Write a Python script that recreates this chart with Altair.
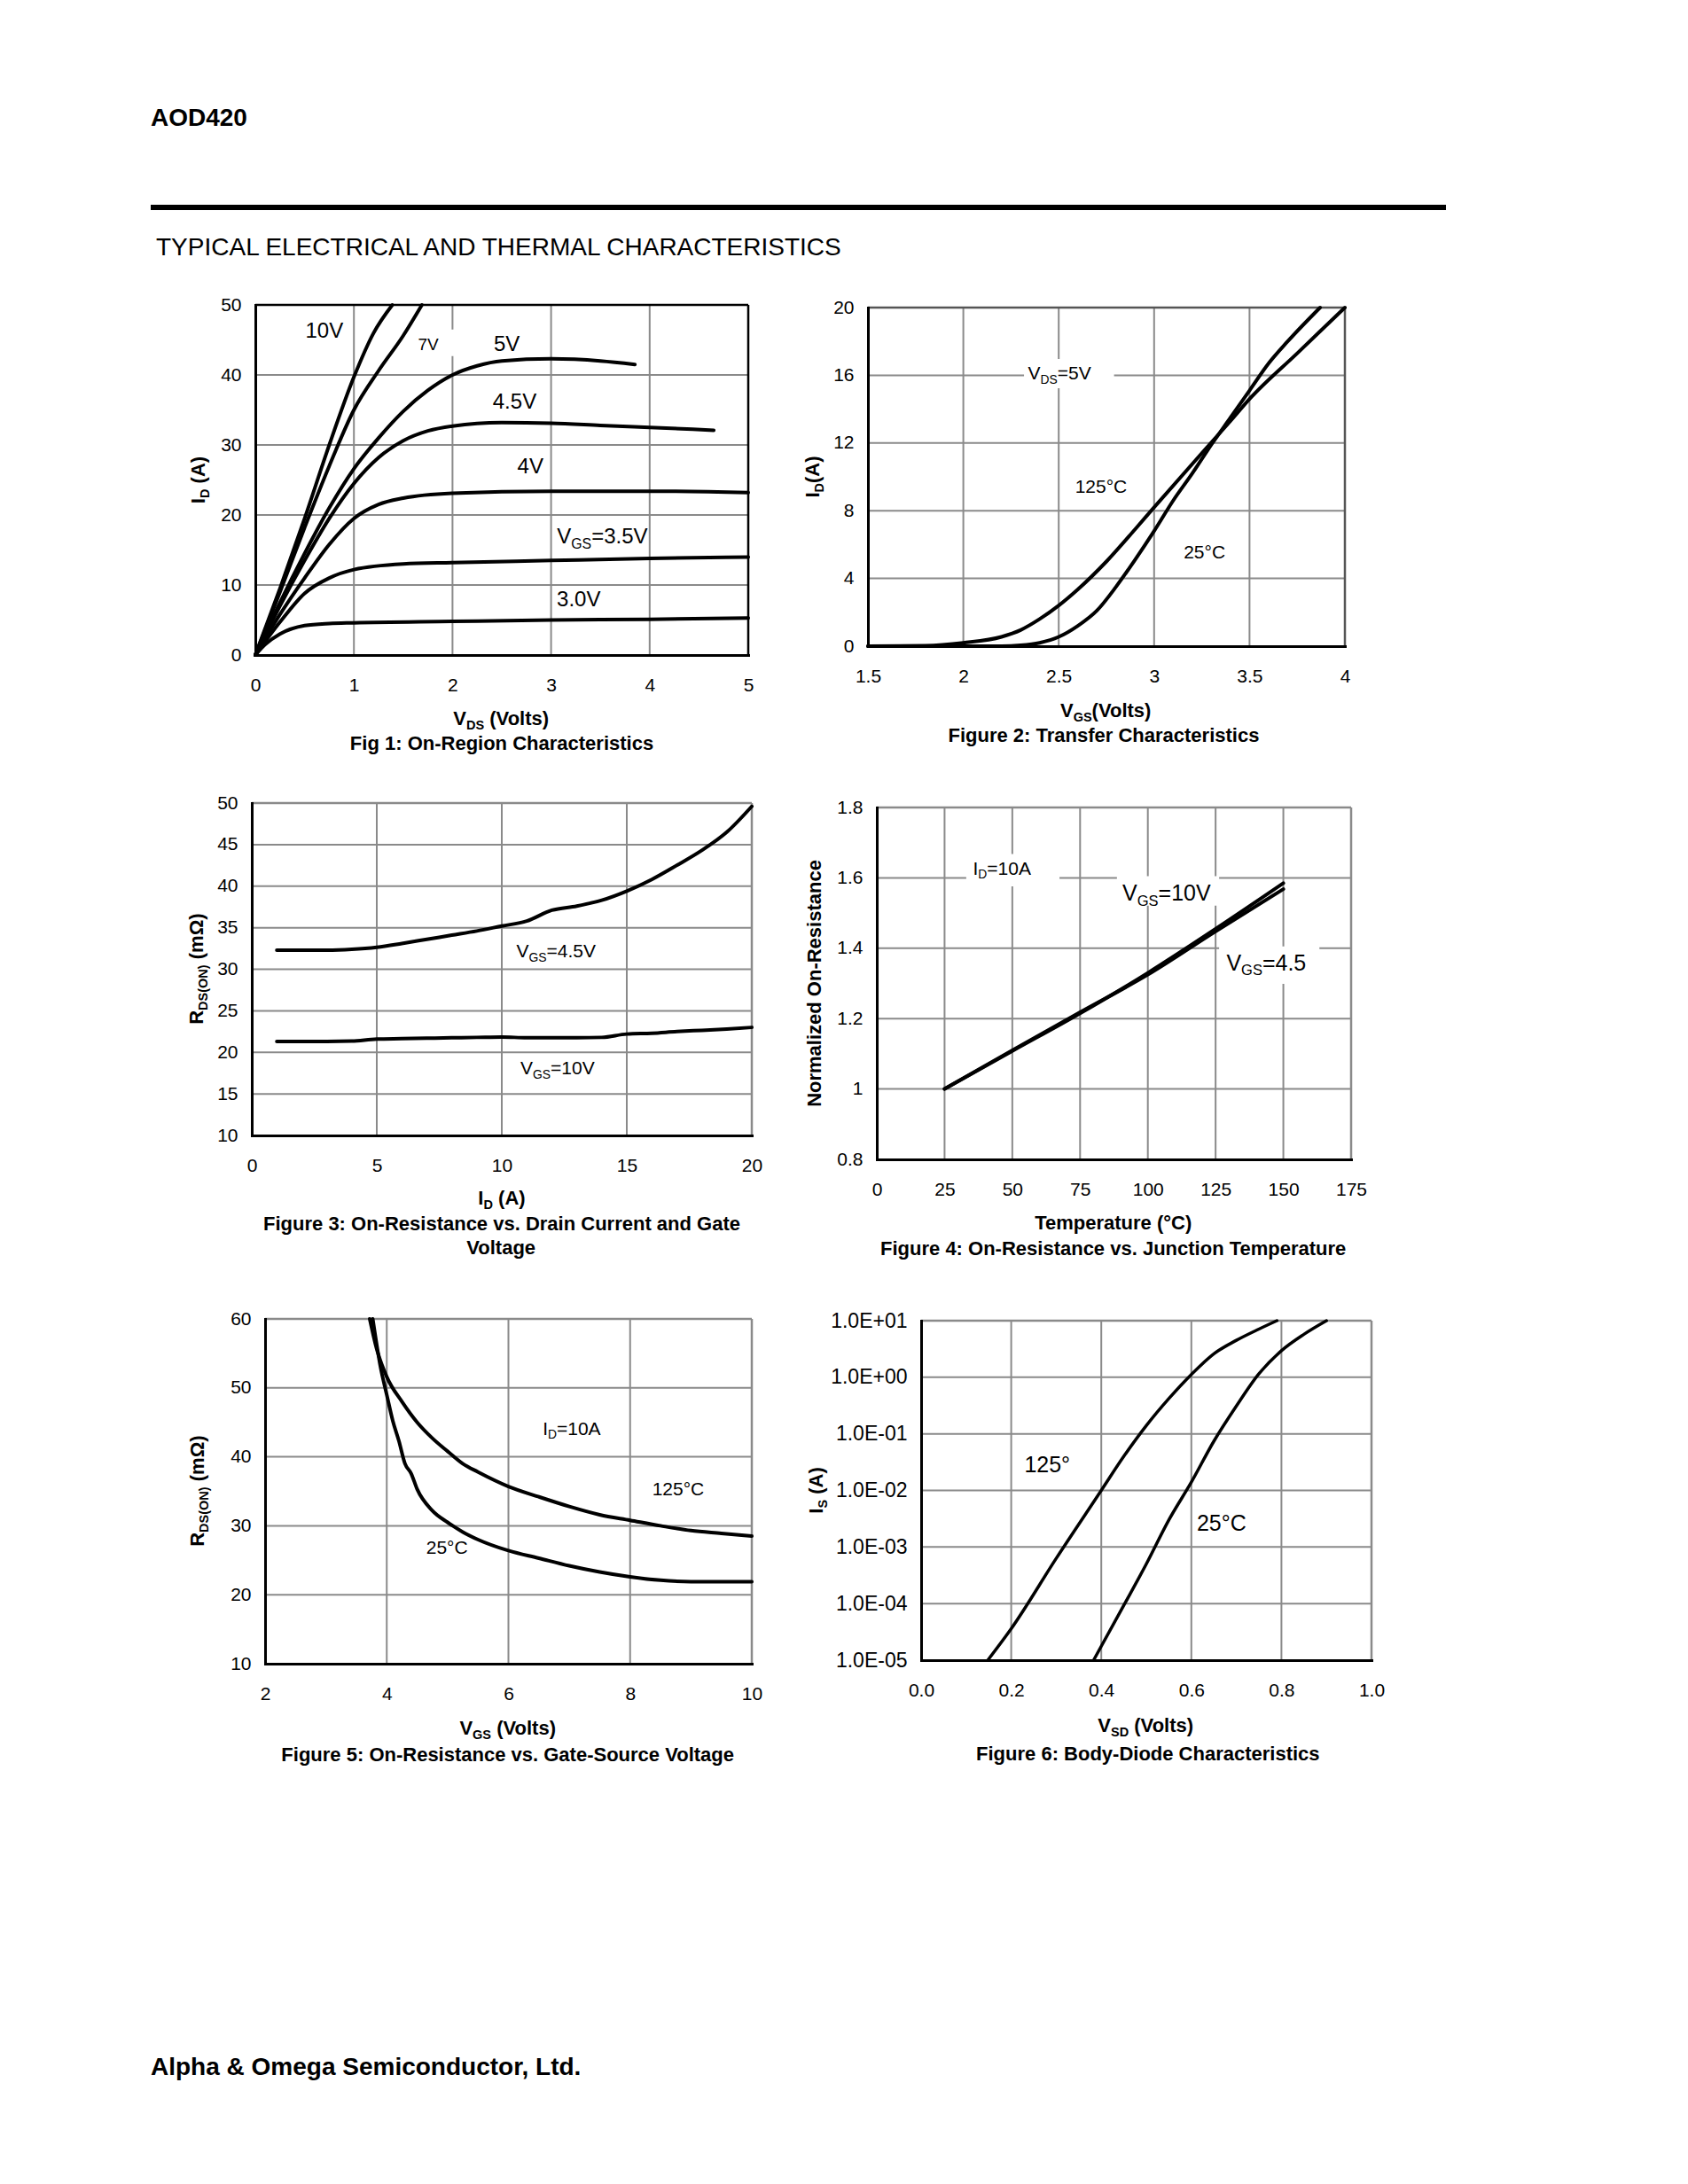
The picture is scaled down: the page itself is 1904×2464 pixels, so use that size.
import re
import altair as alt
import pandas as pd

FONT = "Liberation Sans, Arial, Helvetica, sans-serif"
GRID = "#8a8a8a"

# ---------------------------------------------------------------- data
# Fig 1: On-Region Characteristics (VDS in V, ID in A)
f1_vds_10v = [0, 0.25, 0.5, 0.75, 1.0, 1.2, 1.39]
f1_id_10v = [0, 9.5, 19.5, 30.0, 39.7, 46.0, 50.0]
f1_vds_7v = [0, 0.25, 0.5, 0.75, 1.0, 1.25, 1.5, 1.69]
f1_id_7v = [0, 9.0, 18.2, 27.0, 35.0, 40.6, 45.6, 50.0]
f1_vds_5v = [0, 0.25, 0.5, 0.75, 1.0, 1.25, 1.5, 1.75, 2.0, 2.25, 2.5, 3.0, 3.5, 3.85]
f1_id_5v = [0, 7.5, 14.5, 21.0, 26.6, 31.0, 34.8, 37.8, 40.0, 41.3, 42.0, 42.3, 42.0, 41.5]
f1_vds_45v = [0, 0.25, 0.5, 0.75, 1.0, 1.25, 1.5, 1.75, 2.0, 2.5, 3.0, 3.5, 4.0, 4.65]
f1_id_45v = [0, 7.0, 13.5, 19.5, 24.5, 28.2, 30.6, 32.0, 32.7, 33.2, 33.1, 32.8, 32.5, 32.1]
f1_vds_4v = [0, 0.25, 0.5, 0.75, 1.0, 1.25, 1.5, 2.0, 3.0, 4.0, 5.0]
f1_id_4v = [0, 5.8, 11.0, 15.8, 19.5, 21.5, 22.4, 23.1, 23.4, 23.4, 23.2]
f1_vds_35v = [0, 0.25, 0.5, 0.75, 1.0, 1.5, 2.0, 3.0, 4.0, 5.0]
f1_id_35v = [0, 4.7, 8.8, 11.0, 12.2, 13.0, 13.2, 13.5, 13.8, 14.0]
f1_vds_3v = [0, 0.1, 0.25, 0.5, 0.75, 1.0, 2.0, 3.0, 4.0, 5.0]
f1_id_3v = [0, 1.5, 3.0, 4.2, 4.5, 4.6, 4.8, 5.0, 5.1, 5.3]
f1_xticks = [0, 1, 2, 3, 4, 5]
f1_xlabels = ["0", "1", "2", "3", "4", "5"]
f1_yticks = [0, 10, 20, 30, 40, 50]
f1_ylabels = ["0", "10", "20", "30", "40", "50"]
f1_texts = ["10V", "7V", "5V", "4.5V", "4V", "V_{GS}=3.5V", "3.0V"]
f1_text_x = [0.70, 1.755, 2.55, 2.63, 2.79, 3.52, 3.28]
f1_text_y = [46.4, 44.4, 44.5, 36.3, 27.1, 17.0, 8.0]

# Fig 2: Transfer Characteristics (VGS in V, ID in A)
f2_vgs_125 = [1.5, 1.8, 2.0, 2.2, 2.3, 2.4, 2.5, 2.6, 2.75, 2.9, 3.0, 3.25, 3.4, 3.5, 3.75, 4.0]
f2_id_125 = [0, 0.03, 0.2, 0.55, 0.95, 1.6, 2.4, 3.35, 5.0, 6.9, 8.2, 11.4, 13.3, 14.6, 17.3, 20.0]
f2_vgs_25 = [1.5, 2.2, 2.3, 2.4, 2.5, 2.6, 2.7, 2.8, 2.9, 3.0, 3.1, 3.2, 3.3, 3.4, 3.5, 3.6, 3.7, 3.87]
f2_id_25 = [0, 0.0, 0.05, 0.2, 0.55, 1.2, 2.1, 3.5, 5.1, 6.8, 8.6, 10.2, 11.9, 13.5, 15.1, 16.7, 18.0, 20.0]
f2_xticks = [1.5, 2, 2.5, 3, 3.5, 4]
f2_xlabels = ["1.5", "2", "2.5", "3", "3.5", "4"]
f2_yticks = [0, 4, 8, 12, 16, 20]
f2_ylabels = ["0", "4", "8", "12", "16", "20"]
f2_texts = ["V_{DS}=5V", "125°C", "25°C"]
f2_text_x = [2.504, 2.722, 3.264]
f2_text_y = [16.14, 9.45, 5.56]

# Fig 3: On-Resistance vs. Drain Current (ID in A, RDS(ON) in mOhm)
f3_id = [1, 2, 3, 4, 5, 6, 7, 8, 9, 10, 11, 12, 13, 14, 15, 16, 17, 18, 19, 20]
f3_r_45v = [32.3, 32.3, 32.3, 32.4, 32.65, 33.1, 33.6, 34.1, 34.6, 35.2, 35.8, 37.1, 37.6, 38.3,
            39.4, 40.8, 42.5, 44.3, 46.5, 49.6]
f3_r_10v = [21.3, 21.3, 21.3, 21.35, 21.6, 21.65, 21.7, 21.75, 21.8, 21.85, 21.75, 21.75, 21.75,
            21.8, 22.2, 22.3, 22.5, 22.65, 22.8, 23.0]
f3_xticks = [0, 5, 10, 15, 20]
f3_xlabels = ["0", "5", "10", "15", "20"]
f3_yticks = [10, 15, 20, 25, 30, 35, 40, 45, 50]
f3_ylabels = ["10", "15", "20", "25", "30", "35", "40", "45", "50"]
f3_texts = ["V_{GS}=4.5V", "V_{GS}=10V"]
f3_text_x = [12.17, 12.23]
f3_text_y = [32.2, 18.17]

# Fig 4: Normalized On-Resistance vs. Junction Temperature
f4_temp = [25, 50, 75, 100, 125, 150]
f4_n_10v = [1.0, 1.108, 1.215, 1.33, 1.455, 1.585]
f4_n_45v = [1.0, 1.11, 1.218, 1.325, 1.448, 1.568]
f4_xticks = [0, 25, 50, 75, 100, 125, 150, 175]
f4_xlabels = ["0", "25", "50", "75", "100", "125", "150", "175"]
f4_yticks = [0.8, 1.0, 1.2, 1.4, 1.6, 1.8]
f4_ylabels = ["0.8", "1", "1.2", "1.4", "1.6", "1.8"]
f4_texts = ["I_{D}=10A", "V_{GS}=10V", "V_{GS}=4.5"]
f4_text_x = [46.2, 106.9, 143.7]
f4_text_y = [1.628, 1.557, 1.36]

# Fig 5: On-Resistance vs. Gate-Source Voltage (VGS in V, RDS(ON) in mOhm)
f5_vgs_125 = [3.72, 3.83, 4.0, 4.25, 4.5, 4.75, 5.0, 5.25, 5.5, 6.0, 6.5, 7.0, 7.5, 8.0, 8.5, 9.0, 9.5, 10.0]
f5_r_125 = [60, 55.8, 51.6, 48.0, 45.0, 42.7, 40.8, 39.0, 37.8, 35.7, 34.2, 32.8, 31.6, 30.8, 30.0, 29.3, 28.9, 28.5]
f5_vgs_25 = [3.77, 3.9, 4.0, 4.1, 4.2, 4.3, 4.4, 4.5, 4.75, 5.0, 5.25, 5.5, 6.0, 6.5, 7.0, 7.5, 8.0, 8.5, 9.0, 10.0]
f5_r_25 = [60, 52.9, 49.0, 45.2, 42.3, 39.0, 37.6, 35.3, 32.2, 30.5, 29.1, 28.0, 26.4, 25.3, 24.2, 23.3, 22.6,
           22.1, 21.9, 21.9]
f5_xticks = [2, 4, 6, 8, 10]
f5_xlabels = ["2", "4", "6", "8", "10"]
f5_yticks = [10, 20, 30, 40, 50, 60]
f5_ylabels = ["10", "20", "30", "40", "50", "60"]
f5_texts = ["I_{D}=10A", "125°C", "25°C"]
f5_text_x = [7.04, 8.79, 4.99]
f5_text_y = [44.17, 35.38, 26.9]

# Fig 6: Body-Diode Characteristics (VSD in V, IS in A, log)
f6_vsd_125 = [0.148, 0.2, 0.3, 0.4, 0.45, 0.5, 0.55, 0.6, 0.65, 0.7, 0.75, 0.79]
f6_is_125 = [1.0e-5, 3.6e-5, 6.3e-4, 1.0e-2, 4.0e-2, 1.4e-1, 4.2e-1, 1.12, 2.6, 4.5, 7.1, 10.0]
f6_vsd_25 = [0.383, 0.45, 0.5, 0.55, 0.6, 0.65, 0.7, 0.75, 0.8, 0.85, 0.9]
f6_is_25 = [1.0e-5, 9.3e-5, 5.0e-4, 3.0e-3, 1.4e-2, 7.4e-2, 3.1e-1, 1.15, 2.95, 5.75, 10.0]
f6_xticks = [0.0, 0.2, 0.4, 0.6, 0.8, 1.0]
f6_xlabels = ["0.0", "0.2", "0.4", "0.6", "0.8", "1.0"]
f6_yticks = [1e-5, 1e-4, 1e-3, 1e-2, 1e-1, 1e0, 1e1]
f6_ylabels = ["1.0E-05", "1.0E-04", "1.0E-03", "1.0E-02", "1.0E-01", "1.0E+00", "1.0E+01"]
f6_texts = ["125°", "25°C"]
f6_text_x = [0.280, 0.667]
f6_text_y = [0.0285, 0.00263]

# ---------------------------------------------------------------- text helpers
W_R = {c: 556 for c in "0123456789"}
W_R.update({' ': 278, '(': 333, ')': 333, '.': 278, ',': 278, '=': 584, '-': 333, ':': 278, '&': 667,
            '°': 400, 'Ω': 768, '+': 584,
            'A': 667, 'B': 667, 'C': 722, 'D': 722, 'E': 667, 'F': 611, 'G': 778, 'H': 722, 'I': 278,
            'L': 556, 'M': 833, 'N': 722, 'O': 778, 'P': 667, 'R': 722, 'S': 667, 'T': 611, 'U': 722,
            'V': 667, 'Y': 667,
            'a': 556, 'b': 556, 'c': 500, 'd': 556, 'e': 556, 'g': 556, 'h': 556, 'i': 222, 'l': 222,
            'm': 833, 'n': 556, 'o': 556, 'p': 556, 'r': 333, 's': 500, 't': 278, 'u': 556, 'v': 500,
            'z': 500})
W_B = {c: 556 for c in "0123456789"}
W_B.update({' ': 278, '(': 333, ')': 333, '.': 278, ',': 278, '=': 584, '-': 333, ':': 333, '&': 722,
            '°': 400, 'Ω': 768,
            'A': 722, 'C': 722, 'D': 722, 'E': 667, 'F': 611, 'G': 778, 'I': 278, 'L': 611, 'N': 722,
            'O': 778, 'R': 722, 'S': 667, 'T': 611, 'V': 667,
            'a': 556, 'b': 611, 'c': 556, 'd': 611, 'e': 556, 'g': 611, 'h': 611, 'i': 278, 'l': 278,
            'm': 889, 'n': 611, 'o': 611, 'p': 611, 'r': 389, 's': 556, 't': 333, 'u': 611, 'v': 556,
            'z': 500})


def parse_rich(s):
    parts, pos = [], 0
    for m in re.finditer(r"_\{([^}]*)\}", s):
        if m.start() > pos:
            parts.append((s[pos:m.start()], False))
        parts.append((m.group(1), True))
        pos = m.end()
    if pos < len(s):
        parts.append((s[pos:], False))
    return parts


def text_w(s, size, bold):
    tbl = W_B if bold else W_R
    return sum(tbl.get(c, 556) for c in s) * size / 1000.0


def rich_layers(label, size, data, enc, bold=False, angle=0, align="center"):
    parts = parse_rich(label)
    sub_size = size * 0.66
    widths = [text_w(t, sub_size if sub else size, bold) for t, sub in parts]
    total = sum(widths)
    off = -total / 2.0 if align == "center" else 0.0
    base_dy = 0.358 * size
    out = []
    for (t, sub), wd in zip(parts, widths):
        fs = sub_size if sub else size
        stripped = t.lstrip(" ")
        lead = text_w(t[:len(t) - len(stripped)], fs, bold)
        dy = base_dy + (0.22 * size if sub else 0.0)
        mark = alt.Chart(data).mark_text(
            text=stripped, align="left", baseline="alphabetic", dx=round(off + lead, 2), dy=round(dy, 2),
            angle=angle, fontSize=round(fs, 2), font=FONT,
            fontWeight="bold" if bold else "normal", color="black")
        out.append(mark.encode(**enc))
        off += wd
    return out


def label_expr(values, labels):
    s = ""
    for v, lab in zip(values, labels):
        tol = abs(v) * 1e-6 + 1e-12
        s += f"abs(datum.value - ({v!r})) < {tol!r} ? '{lab}' : "
    return s + "''"


def series_df(items):
    rows = []
    for name, xs, ys in items:
        for a, b in zip(xs, ys):
            rows.append({"x": a, "y": b, "s": name})
    return pd.DataFrame(rows)


PIX = pd.DataFrame({"a": [0]})

# ---------------------------------------------------------------- figure specs
FIGS = {
    1: dict(pos=(288, 344, 556, 395), xdom=[0, 5], ydom=[0, 50],
            xticks=f1_xticks, xlabels=f1_xlabels, yticks=f1_yticks, ylabels=f1_ylabels,
            series=[("10V", f1_vds_10v, f1_id_10v), ("7V", f1_vds_7v, f1_id_7v), ("5V", f1_vds_5v, f1_id_5v),
                    ("4.5V", f1_vds_45v, f1_id_45v), ("4V", f1_vds_4v, f1_id_4v),
                    ("3.5V", f1_vds_35v, f1_id_35v), ("3.0V", f1_vds_3v, f1_id_3v)],
            texts=list(zip(f1_texts, f1_text_x, f1_text_y, [24, 19, 24, 24, 24, 24, 24])),
            boxes=[(1.6, 2.1, 42.7, 46.5)],
            xtitle="V_{DS} (Volts)", ytitle="I_{D} (A)", caption=["Fig 1: On-Region Characteristics"],
            ydx=-65, tdy=71, cdy=[99], frame="black", lw=4),
    2: dict(pos=(979, 347, 538, 382), xdom=[1.5, 4], ydom=[0, 20],
            xticks=f2_xticks, xlabels=f2_xlabels, yticks=f2_yticks, ylabels=f2_ylabels,
            series=[("125", f2_vgs_125, f2_id_125), ("25", f2_vgs_25, f2_id_25)],
            texts=list(zip(f2_texts, f2_text_x, f2_text_y, [21, 21, 21])),
            boxes=[(2.318, 2.79, 15.24, 16.96)],
            xtitle="V_{GS}(Volts)", ytitle="I_{D}(A)", caption=["Figure 2: Transfer Characteristics"],
            ydx=-63, tdy=72, cdy=[100], frame="#555555", lw=4),
    3: dict(pos=(284, 906, 564, 375), xdom=[0, 20], ydom=[10, 50],
            xticks=f3_xticks, xlabels=f3_xlabels, yticks=f3_yticks, ylabels=f3_ylabels,
            series=[("4.5V", f3_id, f3_r_45v), ("10V", f3_id, f3_r_10v)],
            texts=list(zip(f3_texts, f3_text_x, f3_text_y, [21, 21])),
            boxes=[],
            xtitle="I_{D} (A)", ytitle="R_{DS(ON)} (mΩ)",
            caption=["Figure 3: On-Resistance vs. Drain Current and Gate", "Voltage"],
            ydx=-63, tdy=70, cdy=[99, 126], frame=GRID, lw=4),
    4: dict(pos=(989, 911, 535, 397), xdom=[0, 175], ydom=[0.8, 1.8],
            xticks=f4_xticks, xlabels=f4_xlabels, yticks=f4_yticks, ylabels=f4_ylabels,
            series=[("10V", f4_temp, f4_n_10v), ("4.5V", f4_temp, f4_n_45v)],
            texts=list(zip(f4_texts, f4_text_x, f4_text_y, [21, 25, 25])),
            boxes=[(33, 67.4, 1.576, 1.668), (88.6, 126.3, 1.521, 1.605), (126.3, 163.3, 1.299, 1.405)],
            xtitle="Temperature (°C)", ytitle="Normalized On-Resistance",
            caption=["Figure 4: On-Resistance vs. Junction Temperature"],
            ydx=-71, tdy=71, cdy=[100], frame=GRID, lw=4),
    5: dict(pos=(299, 1488, 549, 389), xdom=[2, 10], ydom=[10, 60],
            xticks=f5_xticks, xlabels=f5_xlabels, yticks=f5_yticks, ylabels=f5_ylabels,
            series=[("125", f5_vgs_125, f5_r_125), ("25", f5_vgs_25, f5_r_25)],
            texts=list(zip(f5_texts, f5_text_x, f5_text_y, [21, 21, 21])),
            boxes=[],
            xtitle="V_{GS} (Volts)", ytitle="R_{DS(ON)} (mΩ)",
            caption=["Figure 5: On-Resistance vs. Gate-Source Voltage"],
            ydx=-77, tdy=72, cdy=[102], frame=GRID, lw=4),
    6: dict(pos=(1039, 1490, 508, 383), xdom=[0, 1], ydom=[1e-5, 1e1], ytype="log",
            xticks=f6_xticks, xlabels=f6_xlabels, yticks=f6_yticks, ylabels=f6_ylabels,
            series=[("125", f6_vsd_125, f6_is_125), ("25", f6_vsd_25, f6_is_25)],
            texts=list(zip(f6_texts, f6_text_x, f6_text_y, [25, 25])),
            boxes=[], ylab_size=23,
            xtitle="V_{SD} (Volts)", ytitle="I_{S} (A)", caption=["Figure 6: Body-Diode Characteristics"],
            ydx=-119, tdy=73, cdy=[105], frame=GRID, lw=3.5),
}

ORIGIN = 8
col_left = [ORIGIN, ORIGIN + max(FIGS[k]["pos"][0] - ORIGIN + FIGS[k]["pos"][2] for k in (1, 3, 5))]
row_top = [ORIGIN]
for r, (a, b) in enumerate([(1, 2), (3, 4)]):
    row_top.append(row_top[r] + max(FIGS[k]["pos"][1] - row_top[r] + FIGS[k]["pos"][3] for k in (a, b)))


def build_cell(fig, cl, rt, extra=()):
    px, py, w, h = fig["pos"]
    x0, y0 = px - cl, py - rt
    xs = alt.Scale(type=fig.get("xtype", "linear"), domain=fig["xdom"], range=[x0, x0 + w],
                   zero=False, nice=False)
    ys = alt.Scale(type=fig.get("ytype", "linear"), domain=fig["ydom"], range=[y0 + h, y0],
                   zero=False, nice=False)
    common = dict(grid=False, domain=True, domainColor="black", domainWidth=3, domainCap="square",
                  ticks=False, labelFont=FONT, labelColor="black", labelFlush=False, labelOverlap=False,
                  labelAngle=0, title=None, zindex=1)
    xaxis = alt.Axis(orient="bottom", values=fig["xticks"],
                     labelExpr=label_expr(fig["xticks"], fig["xlabels"]),
                     labelFontSize=21, labelPadding=23, **common)
    yaxis = alt.Axis(orient="left", offset=-x0, values=fig["yticks"],
                     labelExpr=label_expr(fig["yticks"], fig["ylabels"]),
                     labelFontSize=fig.get("ylab_size", 21), labelPadding=16, **common)

    def X():
        return alt.X("x:Q", scale=xs, axis=xaxis)

    def Y():
        return alt.Y("y:Q", scale=ys, axis=yaxis)

    xlo, xhi = fig["xdom"]
    ylo, yhi = fig["ydom"]
    layers = []
    # grid lines at the interior tick values
    vdf = pd.DataFrame([{"x": t, "y": ylo, "y2": yhi} for t in fig["xticks"] if xlo < t < xhi])
    hdf = pd.DataFrame([{"x": xlo, "x2": xhi, "y": t} for t in fig["yticks"] if ylo < t < yhi])
    layers.append(alt.Chart(vdf).mark_rule(color=GRID, strokeWidth=2).encode(x=X(), y=Y(), y2="y2:Q"))
    layers.append(alt.Chart(hdf).mark_rule(color=GRID, strokeWidth=2).encode(x=X(), x2="x2:Q", y=Y()))
    if fig["boxes"]:
        bdf = pd.DataFrame(fig["boxes"], columns=["x", "x2", "y", "y2"])
        layers.append(alt.Chart(bdf).mark_rect(color="white").encode(
            x=X(), x2="x2:Q", y=Y(), y2="y2:Q"))
    # top and right frame edges
    tdf = pd.DataFrame([{"x": xlo, "x2": xhi, "y": yhi}])
    rdf = pd.DataFrame([{"x": xhi, "y": ylo, "y2": yhi}])
    layers.append(alt.Chart(tdf).mark_rule(color=fig["frame"], strokeWidth=2.5).encode(
        x=X(), x2="x2:Q", y=Y()))
    layers.append(alt.Chart(rdf).mark_rule(color=fig["frame"], strokeWidth=2.5).encode(
        x=X(), y=Y(), y2="y2:Q"))
    layers.append(alt.Chart(series_df(fig["series"])).mark_line(
        color="black", strokeWidth=fig["lw"], interpolate="monotone", strokeCap="round",
        strokeJoin="round").encode(x=X(), y=Y(), detail="s:N"))
    for txt, xv, yv, size in fig["texts"]:
        layers += rich_layers(txt, size, pd.DataFrame({"x": [xv], "y": [yv]}), dict(x=X(), y=Y()))
    layers += rich_layers(fig["xtitle"], 22, PIX,
                          dict(x=alt.value(x0 + w / 2), y=alt.value(y0 + h + fig["tdy"])), bold=True)
    layers += rich_layers(fig["ytitle"], 22, PIX,
                          dict(x=alt.value(x0 + fig["ydx"]), y=alt.value(y0 + h / 2)), bold=True, angle=270)
    for line, dy in zip(fig["caption"], fig["cdy"]):
        layers += rich_layers(line, 22, PIX,
                              dict(x=alt.value(x0 + w / 2), y=alt.value(y0 + h + dy)), bold=True)
    layers += list(extra)
    return alt.layer(*layers).properties(width=x0 + w, height=y0 + h)


# page header (in cell 1 coordinates) and footer (in cell 5 coordinates)
header = []
header += rich_layers("AOD420", 28, PIX, dict(x=alt.value(170 - col_left[0]), y=alt.value(132 - row_top[0])),
                      bold=True, align="left")
header.append(alt.Chart(PIX).mark_rule(color="black", strokeWidth=6).encode(
    x=alt.value(170 - col_left[0]), x2=alt.value(1631 - col_left[0]), y=alt.value(234 - row_top[0])))
header += rich_layers("TYPICAL ELECTRICAL AND THERMAL CHARACTERISTICS", 28, PIX,
                      dict(x=alt.value(176 - col_left[0]), y=alt.value(278 - row_top[0])), align="left")
footer = rich_layers("Alpha & Omega Semiconductor, Ltd.", 28, PIX,
                     dict(x=alt.value(170 - col_left[0]), y=alt.value(2331 - row_top[2])),
                     bold=True, align="left")

cells = []
for k in range(1, 7):
    c = (k - 1) % 2
    r = (k - 1) // 2
    extra = header if k == 1 else (footer if k == 5 else ())
    cells.append(build_cell(FIGS[k], col_left[c], row_top[r], extra))

chart = alt.concat(*cells, columns=2, spacing=0, bounds="flush", align="each").properties(
    padding=0, background="white"
).configure_view(stroke=None)

chart.save("out.html", embed_options={"renderer": "svg", "actions": False})
